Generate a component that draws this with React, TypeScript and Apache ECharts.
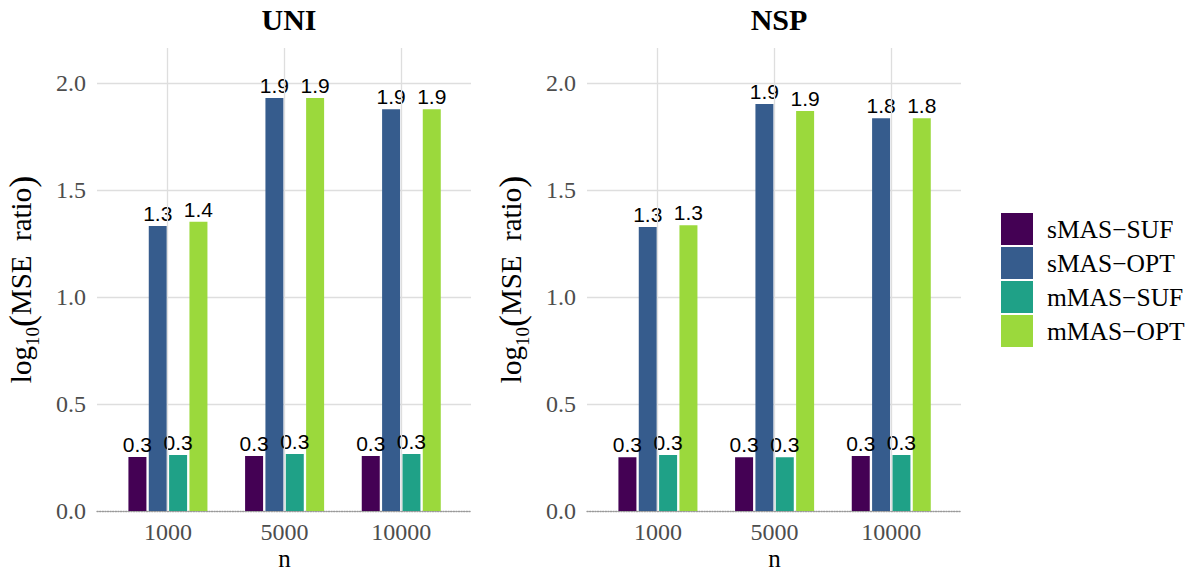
import React, { useEffect, useRef } from "react";
import * as echarts from "echarts";

const categories = ["1000", "5000", "10000"];
const seriesNames = ["sMAS−SUF", "sMAS−OPT", "mMAS−SUF", "mMAS−OPT"];
const colors = ["#440154", "#365C8D", "#1FA187", "#9BD93C"];
const panelTitles = ["UNI", "NSP"];
const yTicks = [0, 0.5, 1.0, 1.5, 2.0];

// UNI panel
const uniSMasSuf = [0.252, 0.257, 0.257];
const uniSMasOpt = [1.332, 1.93, 1.878];
const uniMMasSuf = [0.262, 0.266, 0.266];
const uniMMasOpt = [1.352, 1.93, 1.878];
// NSP panel
const nspSMasSuf = [0.251, 0.251, 0.257];
const nspSMasOpt = [1.327, 1.902, 1.836];
const nspMMasSuf = [0.262, 0.251, 0.262];
const nspMMasOpt = [1.336, 1.869, 1.836];

const panelData = [
  [uniSMasSuf, uniSMasOpt, uniMMasSuf, uniMMasOpt],
  [nspSMasSuf, nspSMasOpt, nspMMasSuf, nspMMasOpt],
];

const Y_MAX = 2.164;
const SERIF = "'Liberation Serif', 'Times New Roman', serif";
const SANS = "'Liberation Sans', Arial, sans-serif";

export default function App() {
  const ref = useRef<HTMLDivElement>(null);
  useEffect(() => {
    if (!ref.current) return;
    const chart = echarts.init(ref.current, null, { renderer: "svg" });
    const offsets = [0, 490];
    const grids: any[] = [];
    const xAxes: any[] = [];
    const yAxes: any[] = [];
    const series: any[] = [];
    const titles: any[] = [];

    offsets.forEach((off, p) => {
      const bgLeft = 97 + off;
      const fgLeft = 109.6 + off;
      grids.push({ left: bgLeft, top: 48, width: 374, height: 463, containLabel: false, outerBoundsMode: "none" });
      grids.push({ left: fgLeft, top: 48, width: 350, height: 463, containLabel: false, outerBoundsMode: "none" });
      const bgIdx = p * 2;
      const fgIdx = p * 2 + 1;
      titles.push({
        text: panelTitles[p],
        left: bgLeft + 187,
        top: -1,
        textAlign: "center",
        textStyle: { fontFamily: SERIF, fontWeight: "bold", fontSize: 30, color: "#000" },
      });
      xAxes.push({
        type: "value",
        gridIndex: bgIdx,
        min: 0.4,
        max: 3.6,
        axisLabel: { show: false },
        axisTick: { show: false },
        splitLine: { show: false },
        axisLine: { show: true, lineStyle: { color: "#9a9a9a", type: "dotted", width: 1.3 } },
      });
      xAxes.push({
        type: "category",
        gridIndex: fgIdx,
        data: categories,
        axisLine: { show: false },
        axisTick: { show: false },
        splitLine: { show: false },
        axisLabel: { fontFamily: SERIF, fontSize: 24, lineHeight: 20, color: "#4D4D4D", margin: 11 },
        name: "n",
        nameLocation: "middle",
        nameGap: 37,
        nameMoveOverlap: false,
        nameTextStyle: { fontFamily: SERIF, fontSize: 25, lineHeight: 20, color: "#000" },
      });
      yAxes.push({
        type: "value",
        gridIndex: bgIdx,
        min: 0,
        max: Y_MAX,
        interval: 0.5,
        axisLine: { show: false },
        axisTick: { show: false },
        axisLabel: {
          fontFamily: SERIF,
          fontSize: 24,
          color: "#4D4D4D",
          margin: 11,
          showMaxLabel: false,
          formatter: (v: number) => (yTicks.some((t) => Math.abs(t - v) < 1e-6) ? v.toFixed(1) : ""),
        },
        splitLine: {
          show: true,
          showMinLine: false,
          showMaxLine: false,
          lineStyle: { color: "#dedede", width: 1.3 },
        },
        name: "{a|log}{s|10}{p|(}{a|MSE  ratio}{p|)}",
        nameLocation: "middle",
        nameRotate: 90,
        nameGap: 55,
        nameMoveOverlap: false,
        nameTextStyle: {
          rich: {
            a: { fontFamily: SERIF, fontSize: 29, color: "#000", verticalAlign: "bottom", padding: [0, 0, 7, 0] },
            s: { fontFamily: SERIF, fontSize: 19, color: "#000", verticalAlign: "bottom", padding: [0, 0, 0, 0] },
            p: { fontFamily: SERIF, fontSize: 36, color: "#000", verticalAlign: "bottom", padding: [0, 0, 2, 0] },
          },
        },
      });
      yAxes.push({
        type: "value",
        gridIndex: fgIdx,
        min: 0,
        max: Y_MAX,
        interval: 0.5,
        show: false,
        splitLine: { show: false },
      });
      series.push({
        type: "scatter",
        xAxisIndex: bgIdx,
        yAxisIndex: bgIdx,
        data: [],
        silent: true,
        z: 0,
        markLine: {
          silent: true,
          symbol: "none",
          label: { show: false },
          lineStyle: { color: "#dedede", width: 1.3, type: "solid" },
          data: [{ xAxis: 1 }, { xAxis: 2 }, { xAxis: 3 }],
        },
      });
      seriesNames.forEach((name, i) => {
        series.push({
          type: "bar",
          name,
          xAxisIndex: fgIdx,
          yAxisIndex: fgIdx,
          data: panelData[p][i],
          barWidth: 18,
          barGap: "13%",
          z: 3,
          itemStyle: { color: colors[i] },
          label: {
            show: true,
            position: "top",
            distance: 2,
            fontFamily: SANS,
            fontSize: 21,
            color: "#000",
            formatter: (d: any) => Number(d.value).toFixed(1),
          },
        });
      });
    });

    chart.setOption({
      animation: false,
      backgroundColor: "#fff",
      title: titles,
      grid: grids,
      xAxis: xAxes,
      yAxis: yAxes,
      series,
      legend: {
        data: seriesNames,
        orient: "vertical",
        left: 1001,
        top: 213,
        padding: 0,
        itemWidth: 32,
        itemHeight: 32,
        itemGap: 2,
        icon: "rect",
        selectedMode: false,
        textStyle: { fontFamily: SERIF, fontSize: 25.5, color: "#000", padding: [0, 0, 0, 9] },
      },
    });
    return () => chart.dispose();
  }, []);
  return (
    <div
      ref={ref}
      style={{ position: "fixed", left: 0, top: 0, width: 1193, height: 571 }}
    />
  );
}
